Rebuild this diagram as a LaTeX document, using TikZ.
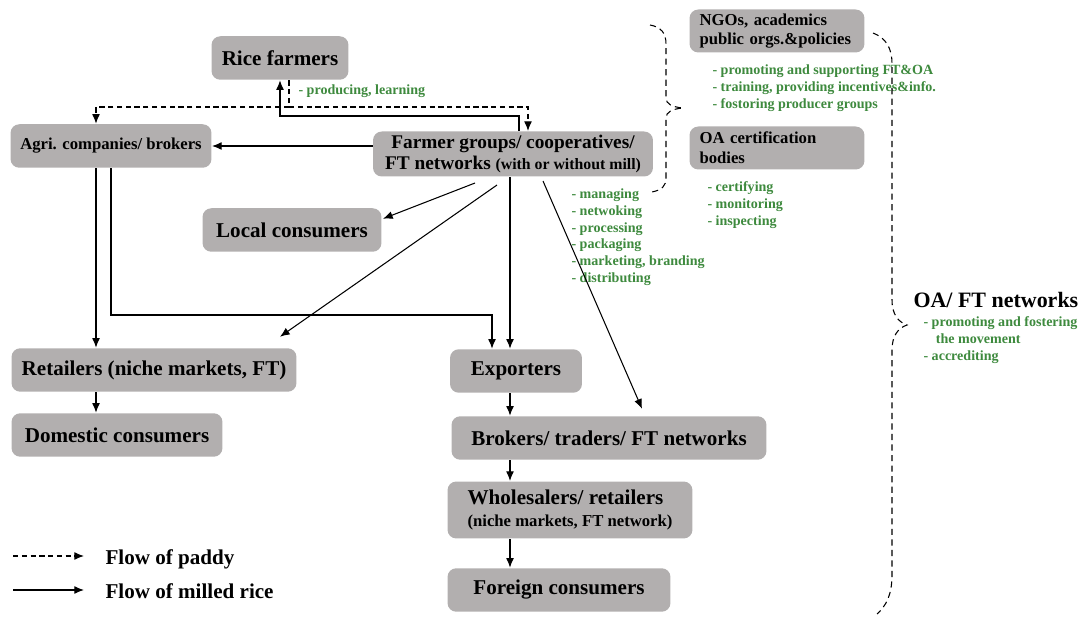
\documentclass[tikz,border=0pt]{standalone}
\usepackage{fontspec}
\setmainfont{Liberation Serif}
\usetikzlibrary{arrows.meta,calc}
\definecolor{boxgray}{RGB}{178,175,175}
\definecolor{actgreen}{RGB}{62,138,62}
\tikzset{
  box/.style={fill=boxgray, rounded corners=5pt, font=\bfseries\fontsize{12}{13}\selectfont, minimum height=0.87cm, inner sep=2pt},
  acts/.style={text=actgreen, font=\bfseries\fontsize{8}{9.6}\selectfont, inner sep=0pt, align=left, anchor=north west},
  legend/.style={font=\bfseries\fontsize{12}{14}\selectfont, anchor=west, inner sep=0pt},
  paddy/.style={dash pattern=on 3pt off 2pt},
  brace/.style={dash pattern=on 3.5pt off 2.5pt},
}

\begin{document}
\begin{tikzpicture}[x=0.02cm, y=-0.02cm, >={Latex[length=5.5pt,width=4.5pt]}, semithick]
\useasboundingbox (0,0) rectangle (1085,617);
% actors
\node[box, minimum width=2.74cm] (rice) at (280,58) {Rice farmers};
\node[box, minimum width=4.02cm, font=\bfseries\fontsize{9.5}{11}\selectfont] (agri) at (111,146) {Agri. companies/ brokers};
\node[box, minimum width=5.6cm, minimum height=0.9cm, inner ysep=1pt, align=center, font=\bfseries\fontsize{11}{12.5}\selectfont] (fg) at (513,154) {Farmer groups/ cooperatives/\\FT networks {\fontsize{9}{10}\selectfont(with or without mill)}};
\node[box, minimum width=3.58cm] (local) at (292,230) {Local consumers};
\node[box, minimum width=5.7cm] (retail) at (154,370) {Retailers (niche markets, FT)};
\node[box, minimum width=4.22cm] (domestic) at (117,435) {Domestic consumers};
\node[box, minimum width=2.64cm] (export) at (516,371) {Exporters};
\node[box, minimum width=6.3cm] (brokers) at (609,438) {Brokers/ traders/ FT networks};
\node[box, minimum width=4.9cm, minimum height=1.14cm, align=left] (wholesale) at (570,510) {Wholesalers/ retailers\\{\fontsize{9.5}{11}\selectfont(niche markets, FT network)}};
\node[box, minimum width=4.46cm] (foreign) at (559,590) {Foreign consumers};
\node[box, text width=3.1cm, inner xsep=0.2cm, align=left, minimum height=0.86cm, font=\bfseries\fontsize{9.5}{11.3}\selectfont] (ngo) at (777,31) {NGOs, academics\\public orgs.\&policies};
\node[box, text width=3.1cm, inner xsep=0.2cm, align=left, minimum height=0.86cm, font=\bfseries\fontsize{9.5}{11.3}\selectfont] (oacert) at (777,148) {OA certification\\bodies};
% activities
\node[acts, anchor=west] (riceacts) at (298,91) {- producing, learning};
\node[acts] (ngoacts) at (712,64) {- promoting and supporting FT\&OA\\- training, providing incentives\&info.\\- fostoring producer groups};
\node[acts] (certacts) at (707,181) {- certifying\\- monitoring\\- inspecting};
\node[acts] (fgacts) at (571,188) {- managing\\- netwoking\\- processing\\- packaging\\- marketing, branding\\- distributing};
\node[font=\bfseries\fontsize{12.5}{14}\selectfont, anchor=west, inner sep=0pt] (oaft) at (913,300) {OA/ FT networks};
\node[acts] (oaftacts) at (923,316) {- promoting and fostering\\\hspace*{7pt}the movement\\- accrediting};
% bends
\coordinate (paddyjoin) at (289,107);
\coordinate (paddyright) at (528,0);
\coordinate (returnbend) at (519,116);
\coordinate (leftline) at (96,0);
\coordinate (agribend) at (111,315);
\coordinate (expbend) at (492,315);
\coordinate (mainline) at (510,0);
% flow of paddy
\draw[paddy] (rice.south -| paddyjoin) -- (paddyjoin);
\draw[paddy,->] (paddyjoin) -| (agri.north -| leftline);
\draw[paddy,->] (paddyjoin) -| (fg.north -| paddyright);
% flow of milled rice
\draw[->] (fg.north -| returnbend) -- (returnbend) -| (rice.south);
\draw[->] (fg.west |- agri.east) -- (agri.east);
\draw[->] (agri.south -| leftline) -- (retail.north -| leftline);
\draw[->] (agri.south -| agribend) -- (agribend) -- (expbend) -- (export.north -| expbend);
\draw[->] (fg.south -| mainline) -- (export.north -| mainline);
\draw[->] ($(fg.south)+(-38,6)$) -- ($(local.north east)+(1,11)$);
\draw[->] ($(fg.south)+(-16,8)$) -- ($(retail.north east)+(-17,-11)$);
\draw[->] ($(fg.south)+(30,4)$) -- ($(brokers.north)+(33,-7)$);
\draw[->] (retail.south -| leftline) -- (domestic.north -| leftline);
\draw[->] (export.south -| mainline) -- (brokers.north -| mainline);
\draw[->] (brokers.south -| mainline) -- (wholesale.north -| mainline);
\draw[->] (wholesale.south -| mainline) -- (foreign.north -| mainline);
% braces
\draw[brace] (650,25) .. controls (661,27) and (666,33) .. (666,44) -- (666,98) .. controls (666,104) and (672,107) .. (683,108) .. controls (672,109) and (666,112) .. (666,118) -- (666,178) .. controls (666,186) and (662,190) .. (652,192);
\draw[brace] (873,33) .. controls (886,38) and (892,48) .. (892,64) -- (892,300) .. controls (892,314) and (898,322) .. (907,325) .. controls (898,328) and (892,336) .. (892,350) -- (892,575) .. controls (892,595) and (886,606) .. (877,614);
% legend
\coordinate (lpa) at (13,556);
\coordinate (lpb) at (84,556);
\coordinate (lma) at (13,590);
\coordinate (lmb) at (84,590);
\draw[paddy,->] (lpa) -- (lpb);
\draw[->] (lma) -- (lmb);
\node[legend] (lpaddy) at (105,559) {Flow of paddy};
\node[legend] (lmilled) at (105,591) {Flow of milled rice};
\end{tikzpicture}
\end{document}
